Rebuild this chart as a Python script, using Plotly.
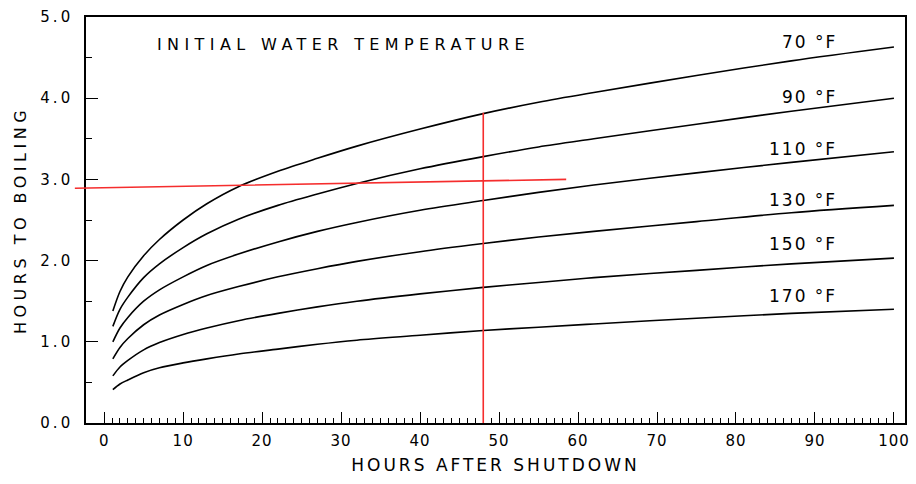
import plotly.graph_objects as go

# ---- data ----
hours = [1.1, 2, 3, 5, 7, 10, 13, 17, 22, 27, 32, 40, 48, 55, 62, 75, 87, 100]
temps = ["70 °F", "90 °F", "110 °F", "130 °F", "150 °F", "170 °F"]
boil_70 = [1.38, 1.62, 1.80, 2.06, 2.26, 2.50, 2.70, 2.91, 3.10, 3.26, 3.41, 3.62, 3.81, 3.95, 4.07, 4.28, 4.46, 4.63]
boil_90 = [1.19, 1.40, 1.55, 1.79, 1.96, 2.16, 2.33, 2.51, 2.68, 2.82, 2.95, 3.13, 3.28, 3.40, 3.50, 3.68, 3.84, 4.00]
boil_110 = [1.00, 1.17, 1.30, 1.50, 1.64, 1.80, 1.94, 2.08, 2.23, 2.36, 2.47, 2.62, 2.74, 2.84, 2.93, 3.08, 3.21, 3.34]
boil_130 = [0.79, 0.93, 1.04, 1.21, 1.33, 1.46, 1.57, 1.68, 1.80, 1.90, 1.99, 2.11, 2.21, 2.29, 2.36, 2.48, 2.59, 2.68]
boil_150 = [0.58, 0.69, 0.77, 0.90, 0.99, 1.09, 1.17, 1.26, 1.35, 1.43, 1.50, 1.59, 1.67, 1.73, 1.79, 1.88, 1.96, 2.03]
boil_170 = [0.41, 0.48, 0.53, 0.62, 0.68, 0.74, 0.79, 0.85, 0.91, 0.97, 1.02, 1.08, 1.14, 1.18, 1.22, 1.29, 1.35, 1.40]
series = [boil_70, boil_90, boil_110, boil_130, boil_150, boil_170]

# curve label placement (hours, hours-to-boiling)
label_x = 93
label_y = [4.69, 4.02, 3.37, 2.75, 2.20, 1.56]

x_ticks = list(range(0, 101, 10))
y_ticks = [0, 1, 2, 3, 4, 5]

# red guide lines (example reading)
guide_v_hours = 48
guide_v_top = 3.82
guide_h_start = (-3.9, 2.89)
guide_h_end = (58.5, 3.00)

FONT = "DejaVu Sans"
RED = "rgb(245,45,45)"


def spaced(text, px):
    return f'<span style="letter-spacing:{px}px">{text}</span>'


fig = go.Figure()
for name, vals in zip(temps, series):
    fig.add_trace(go.Scatter(
        x=hours, y=vals, mode="lines", name=name,
        line=dict(color="black", width=1.6, shape="spline", smoothing=0.9),
        showlegend=False, hoverinfo="skip"))

annotations = []
for name, ly in zip(temps, label_y):
    annotations.append(dict(
        x=label_x, y=ly, xref="x", yref="y", text=spaced(name, 2),
        showarrow=False, xanchor="right", yanchor="middle",
        font=dict(family=FONT, size=17, color="black")))

annotations.append(dict(
    x=6.4, y=4.66, xref="x", yref="y", text=spaced("INITIAL WATER TEMPERATURE", 5.4),
    showarrow=False, xanchor="left", yanchor="middle",
    font=dict(family=FONT, size=16, color="black")))

# horizontal red guide (extends past the left axis)
annotations.append(dict(
    x=guide_h_end[0], y=guide_h_end[1], xref="x", yref="y",
    ax=guide_h_start[0], ay=guide_h_start[1], axref="x", ayref="y",
    text="", showarrow=True, arrowhead=0, arrowwidth=1.6, arrowcolor=RED,
    standoff=0, startstandoff=0))

fig.add_shape(type="line", xref="x", yref="y",
              x0=guide_v_hours, x1=guide_v_hours, y0=0, y1=guide_v_top,
              line=dict(color=RED, width=1.6))

fig.update_layout(
    width=916, height=484,
    margin=dict(l=86, r=6, t=17, b=61),
    paper_bgcolor="white", plot_bgcolor="white",
    annotations=annotations,
    font=dict(family=FONT, color="black"),
)

fig.update_xaxes(
    range=[-2.3, 101.4], tickvals=x_ticks, ticktext=[spaced(str(v), 1) for v in x_ticks],
    ticks="inside", ticklen=11, tickwidth=1.2, tickcolor="black",
    minor=dict(tickvals=[v for v in range(1, 101) if v % 10], ticks="inside",
               ticklen=5, tickwidth=1, tickcolor="black", showgrid=False),
    showline=True, linecolor="black", linewidth=1.6, mirror=True,
    showgrid=False, zeroline=False,
    tickfont=dict(family=FONT, size=15), ticklabelstandoff=3,
    title=dict(text=spaced("HOURS AFTER SHUTDOWN", 3), font=dict(family=FONT, size=17), standoff=10),
)
fig.update_yaxes(
    range=[0, 5], tickvals=y_ticks, ticktext=[spaced(f"{v:.1f}", 3) for v in y_ticks],
    ticks="inside", ticklen=12, tickwidth=1.2, tickcolor="black",
    minor=dict(dtick=0.5, ticks="inside", ticklen=6, tickwidth=1,
               tickcolor="black", showgrid=False),
    showline=True, linecolor="black", linewidth=1.6, mirror=True,
    showgrid=False, zeroline=False,
    tickfont=dict(family=FONT, size=15), ticklabelstandoff=8,
    title=dict(text=spaced("HOURS TO BOILING", 4.5), font=dict(family=FONT, size=16), standoff=10),
)

fig.write_html("out.html")
